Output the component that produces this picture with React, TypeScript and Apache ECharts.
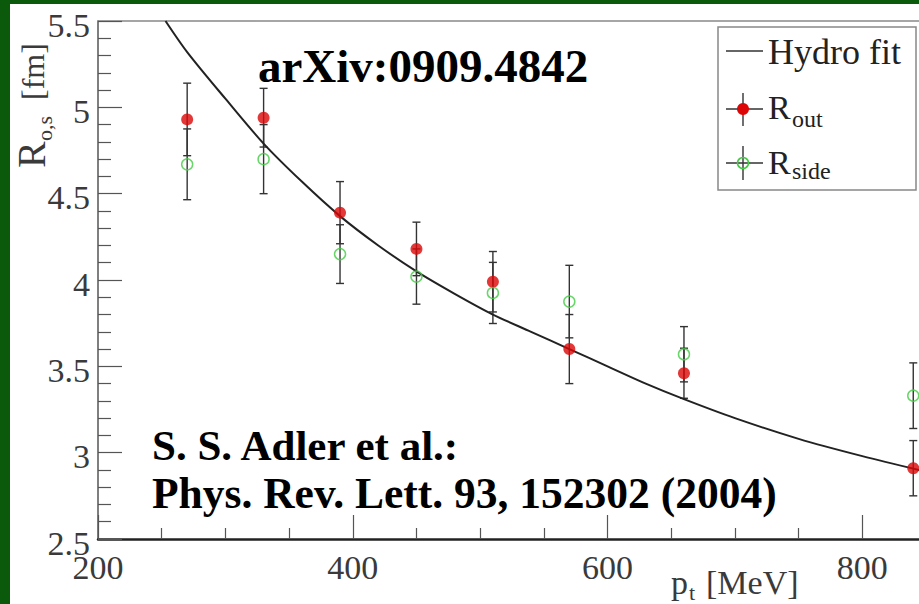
import React, { useEffect, useRef } from "react";
import * as echarts from "echarts";

// ---- data ----
const ptBins = [270, 330, 390, 450, 510, 570, 660, 840];
const rOut = [4.93, 4.94, 4.39, 4.18, 3.99, 3.6, 3.46, 2.91];
const rOutErr = [0.21, 0.17, 0.18, 0.155, 0.175, 0.2, 0.145, 0.16];
const rSide = [4.67, 4.7, 4.15, 4.02, 3.925, 3.875, 3.57, 3.33];
const rSideErr = [0.205, 0.2, 0.17, 0.16, 0.177, 0.21, 0.16, 0.19];

const fitPt = [253, 270, 300, 330, 360, 390, 420, 450, 480, 510, 540, 570, 600, 630, 660, 700, 750, 800, 850];
const fitR = [5.5, 5.32, 5.05, 4.79, 4.57, 4.37, 4.2, 4.05, 3.92, 3.8, 3.7, 3.6, 3.5, 3.4, 3.31, 3.2, 3.08, 2.98, 2.89];

const xTicks = { min: 200, max: 850, interval: 200 };
const yTicks = { min: 2.5, max: 5.5, interval: 0.5 };

const GREEN = "#0b5a0b";
const SERIF = "Liberation Serif";
const LABEL_GREY = "#3a3a3a";

export default function App() {
  const ref = useRef<HTMLDivElement>(null);

  useEffect(() => {
    document.body.style.margin = "0";
    const chart = echarts.init(ref.current!, null, { renderer: "svg" });

    const errData = [
      ...ptBins.map((x, i) => [x, rOut[i] - rOutErr[i], rOut[i] + rOutErr[i]]),
      ...ptBins.map((x, i) => [x, rSide[i] - rSideErr[i], rSide[i] + rSideErr[i]]),
    ];

    const barStyle = { stroke: "#333", lineWidth: 1.4 };
    const txt = (text: string, size: number, extra: any = {}) => ({
      text,
      fontFamily: SERIF,
      fontSize: size,
      fill: LABEL_GREY,
      verticalAlign: "middle",
      ...extra,
    });

    const option: any = {
      animation: false,
      textStyle: { fontFamily: SERIF },
      grid: { left: 98, right: 0, top: 21, bottom: 65 },
      xAxis: [
        {
          type: "value",
          min: xTicks.min,
          max: xTicks.max,
          interval: xTicks.interval,
          axisLine: { show: true, lineStyle: { color: "#222", width: 2.5 } },
          axisTick: { show: true, inside: true, length: 24, lineStyle: { color: "#555", width: 1.2 } },
          minorTick: { show: true, splitNumber: 4, length: 11, lineStyle: { color: "#555", width: 1.2 } },
          splitLine: { show: false },
          axisLabel: {
            fontFamily: SERIF,
            fontSize: 34,
            color: LABEL_GREY,
            margin: 11,
            showMaxLabel: false,
            formatter: "{t|{value}}",
            rich: { t: { fontFamily: SERIF, fontSize: 34, color: LABEL_GREY } },
          },
        },
        {
          type: "value",
          position: "top",
          min: xTicks.min,
          max: xTicks.max,
          axisLine: { show: true, lineStyle: { color: "#888", width: 1.5 } },
          axisTick: { show: false },
          axisLabel: { show: false },
          splitLine: { show: false },
        },
      ],
      yAxis: {
        type: "value",
        min: yTicks.min,
        max: yTicks.max,
        interval: yTicks.interval,
        axisLine: { show: true, lineStyle: { color: "#555", width: 1.5 } },
        axisTick: { show: true, inside: true, length: 24, lineStyle: { color: "#555", width: 1.2 } },
        minorTick: { show: true, splitNumber: 5, length: 13, lineStyle: { color: "#555", width: 1.2 } },
        splitLine: { show: false },
        axisLabel: {
          fontFamily: SERIF,
          fontSize: 34,
          color: LABEL_GREY,
          margin: 8,
          formatter: "{t|{value}}",
          rich: { t: { fontFamily: SERIF, fontSize: 34, color: LABEL_GREY, padding: [8, 0, 0, 0] } },
        },
      },
      series: [
        {
          type: "custom",
          name: "err",
          data: errData,
          encode: { x: 0, y: [1, 2] },
          z: 3,
          renderItem: (_p: any, api: any) => {
            const x = api.value(0);
            const top = api.coord([x, api.value(2)]);
            const bot = api.coord([x, api.value(1)]);
            const w = 4;
            return {
              type: "group",
              children: [
                { type: "line", shape: { x1: top[0], y1: top[1], x2: bot[0], y2: bot[1] }, style: barStyle },
                { type: "line", shape: { x1: top[0] - w, y1: top[1], x2: top[0] + w, y2: top[1] }, style: barStyle },
                { type: "line", shape: { x1: bot[0] - w, y1: bot[1], x2: bot[0] + w, y2: bot[1] }, style: barStyle },
              ],
            };
          },
        },
        {
          type: "line",
          name: "Hydro fit",
          data: fitPt.map((x, i) => [x, fitR[i]]),
          smooth: 0.3,
          symbol: "none",
          lineStyle: { color: "#222", width: 2 },
          z: 4,
        },
        {
          type: "scatter",
          name: "R_out",
          data: ptBins.map((x, i) => [x, rOut[i]]),
          symbol: "circle",
          symbolSize: 12,
          itemStyle: { color: "#dc0606" },
          z: 5,
        },
        {
          type: "scatter",
          name: "R_side",
          data: ptBins.map((x, i) => [x, rSide[i]]),
          symbol: "circle",
          symbolSize: 11,
          itemStyle: { color: "rgba(255,255,255,0)", borderColor: "#44cc44", borderWidth: 1.5 },
          z: 6,
        },
      ],
      graphic: [
        // annotations
        {
          type: "text", x: 258, y: 66, z: 10,
          style: txt("arXiv:0909.4842", 47, { fontWeight: "bold", fill: "#000" }),
        },
        {
          type: "text", x: 152, y: 445, z: 10,
          style: txt("S. S. Adler et al.:", 43, { fontWeight: "bold", fill: "#000" }),
        },
        {
          type: "text", x: 152, y: 493, z: 10,
          style: txt("Phys. Rev. Lett. 93, 152302 (2004)", 43.5, { fontWeight: "bold", fill: "#000" }),
        },
        // x axis title
        { type: "text", x: 671, y: 582, style: txt("p", 34) },
        { type: "text", x: 689, y: 592, style: txt("t", 22) },
        { type: "text", x: 706, y: 582, style: txt("[MeV]", 34) },
        // y axis title (rotated)
        {
          type: "group",
          x: 45,
          y: 168,
          rotation: Math.PI / 2,
          children: [
            { type: "text", x: 0, y: -14, style: txt("R", 40) },
            { type: "text", x: 27, y: -1, style: txt("o,s", 22) },
            { type: "text", x: 68, y: -12, style: txt("[fm]", 32) },
          ],
        },
        // legend
        {
          type: "rect",
          shape: { x: 718, y: 27, width: 198, height: 163 },
          style: { fill: "#fff", stroke: "#888", lineWidth: 1.5 },
          z: 20,
        },
        { type: "line", shape: { x1: 726, y1: 51, x2: 763, y2: 51 }, style: { stroke: "#333", lineWidth: 1.5 }, z: 21 },
        { type: "text", x: 768, y: 52, z: 21, style: txt("Hydro fit", 36, { fill: "#222" }) },
        { type: "line", shape: { x1: 726, y1: 109, x2: 763, y2: 109 }, style: { stroke: "#333", lineWidth: 1.4 }, z: 21 },
        { type: "line", shape: { x1: 743, y1: 93, x2: 743, y2: 126 }, style: { stroke: "#333", lineWidth: 1.4 }, z: 21 },
        { type: "circle", shape: { cx: 743, cy: 109, r: 6 }, style: { fill: "#dc0606" }, z: 22 },
        { type: "text", x: 768, y: 107, z: 21, style: txt("R", 34, { fill: "#222" }) },
        { type: "text", x: 792, y: 119, z: 21, style: txt("out", 24, { fill: "#222" }) },
        { type: "line", shape: { x1: 726, y1: 163, x2: 763, y2: 163 }, style: { stroke: "#333", lineWidth: 1.4 }, z: 21 },
        { type: "line", shape: { x1: 743, y1: 146, x2: 743, y2: 180 }, style: { stroke: "#333", lineWidth: 1.4 }, z: 21 },
        { type: "circle", shape: { cx: 743, cy: 163, r: 5.5 }, style: { fill: "rgba(255,255,255,0)", stroke: "#44cc44", lineWidth: 1.5 }, z: 22 },
        { type: "text", x: 768, y: 162, z: 21, style: txt("R", 34, { fill: "#222" }) },
        { type: "text", x: 792, y: 171, z: 21, style: txt("side", 24, { fill: "#222" }) },
      ],
    };

    chart.setOption(option);
    return () => chart.dispose();
  }, []);

  return (
    <div style={{ position: "relative", width: 919, height: 604, overflow: "hidden", background: GREEN }}>
      <div style={{ position: "absolute", left: 10, top: 4, right: 0, bottom: 0, background: "#fff" }} />
      <div ref={ref} style={{ position: "absolute", left: 0, top: 0, width: 926, height: 604 }} />
    </div>
  );
}
